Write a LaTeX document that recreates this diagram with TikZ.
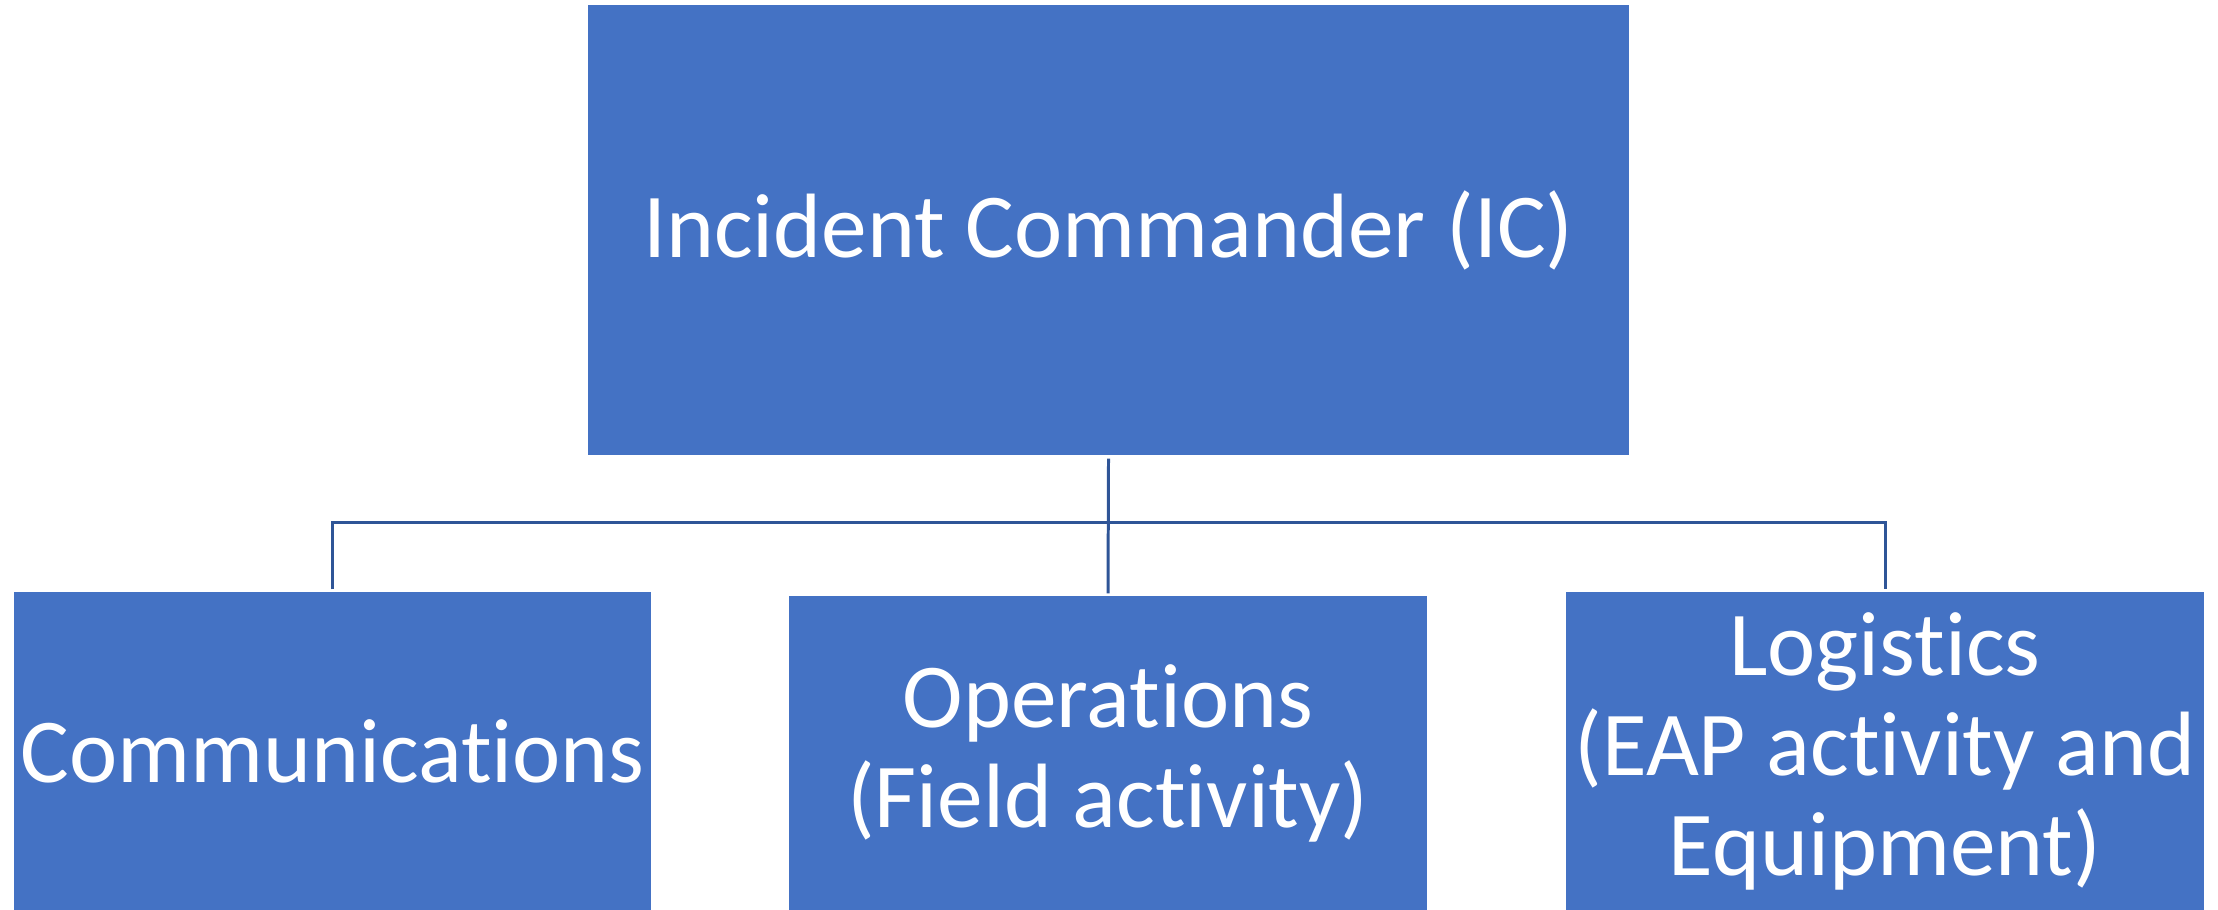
\documentclass[tikz,border=0pt]{standalone}
\usepackage{fontspec}
\setmainfont{Carlito}[Ligatures=NoCommon]
\usepackage{xcolor}

\definecolor{boxblue}{RGB}{68,114,196}
\definecolor{lineblue}{RGB}{47,85,151}

\begin{document}
\begin{tikzpicture}[
    unit/.style={fill=boxblue, text=white, align=center, inner sep=0pt,
        font=\fontsize{26pt}{28.45pt}\selectfont},
    link/.style={draw=lineblue, line width=0.85pt}
    ]
    \useasboundingbox (0,0) rectangle (22.18,9.10);

    \node[unit, minimum width=10.41cm, minimum height=4.50cm] (ic) at (11.085,6.80) {Incident Commander (IC)};

    \node[unit, minimum width=6.37cm, minimum height=3.18cm] (comm) at (3.325,1.59) {Communications};
    \node[unit, minimum width=6.38cm, minimum height=3.14cm] (ops) at (11.08,1.57) {Operations\\(Field activity)};
    \node[unit, minimum width=6.38cm, minimum height=3.18cm] (logi) at (18.85,1.59) {Logistics\\(EAP activity and\\Equipment)};

    % tree lines
    \coordinate (bus) at (11.085,3.87);
    \draw[link] ([yshift=-0.03cm]ic.south) -- ([yshift=0.02cm]ops.north);
    \draw[link] ([yshift=0.02cm]comm.north) |- (bus) -| ([yshift=0.02cm]logi.north);
\end{tikzpicture}
\end{document}
